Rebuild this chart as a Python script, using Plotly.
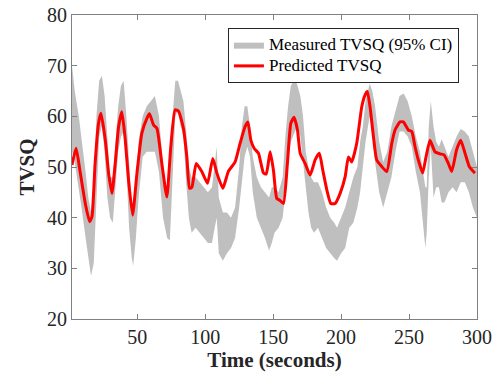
import plotly.graph_objects as go

# Predicted TVSQ (red line)
pred_t = [2, 5, 8, 12, 15, 16.7, 19, 21.5, 23.3, 26.5, 28.9, 31.4, 33.8, 36.3, 38.7, 41.2, 43.6, 46.6,
          49.8, 53.4, 57.1, 59, 62, 64.5, 68.1, 71.8, 74.7, 77.9, 80.4, 84, 86.5, 88.5, 90.2, 93.4,
          97.5, 101.7, 105.6, 108.6, 113, 117, 122, 125.7, 129.4, 131.4, 133.6, 136, 139.2, 142.9,
          144.9, 147.8, 150.2, 152.7, 155.1, 157.6, 160.5, 163, 165.4, 167.9, 169.9, 173.5, 177.2,
          180.9, 184, 186.5, 189.5, 192.4, 195.6, 199.3, 203, 205.4, 207.8, 211.5, 215.2, 217.6,
          219.3, 221.3, 223.8, 226.2, 229.9, 233.6, 237.3, 239.7, 243.4, 245.8, 249.5, 252, 254.4,
          256.8, 260, 262.5, 265.4, 269.1, 272.8, 275.7, 278.9, 281.4, 285, 288, 291.2, 294.3, 297.3, 298.5]
pred_v = [50.4, 53.7, 49, 42.5, 39.2, 40.2, 50.7, 58.6, 60.6, 55.3, 48.8, 44.8, 50.7, 58, 60.9, 55.3,
          47.4, 40.5, 48.8, 56.7, 59.6, 60.5, 58.3, 57.6, 50.7, 44.1, 54, 61.3, 61, 57.6, 52, 45.8,
          46, 50.7, 49.1, 46.8, 51.7, 48.8, 45.8, 49.1, 51, 54.7, 58, 58.9, 55.3, 53.7, 52.7, 48.8,
          48.6, 53, 49.4, 43.8, 43.4, 42.8, 50.7, 58.6, 59.8, 57.3, 52.7, 50.7, 48.4, 51.4, 52.7,
          49.4, 45.5, 42.8, 42.8, 44.8, 48.1, 52, 51, 54.7, 61.9, 64.2, 64.9, 61.9, 56, 51.4, 50.1,
          49.1, 54.7, 57.3, 58.9, 58.9, 57.3, 57, 54, 51.4, 48.8, 52, 55.3, 53, 52.6, 52.4, 50.7,
          49.1, 53.4, 55.3, 52.7, 50.1, 49.1, 48.8]

# Measured TVSQ 95% CI band
ci_t = [2, 4, 7, 9, 12, 14, 16, 18, 20, 22, 24, 26, 28, 30, 32, 34, 36, 38, 40, 42, 44, 46, 47, 49,
        51, 54, 57, 60, 63, 66, 69, 72, 74, 76, 78, 80, 82, 84, 86, 88, 90, 93, 96, 99, 102, 105,
        107, 108.5, 110, 113, 116, 119, 122, 125, 127, 129, 131, 133, 135, 138, 141, 144, 147, 149,
        151, 154, 157, 159, 161, 163, 166, 168, 170, 172, 174, 176, 178, 180, 183, 186, 189, 192,
        195, 197, 200, 203, 206, 209, 212, 214, 216, 218, 221, 223, 225, 228, 231, 234, 237, 240,
        243, 246, 249, 252, 255, 258, 260, 262, 263, 264.5, 266, 268, 270, 272, 274, 276, 279, 282,
        285, 288, 291, 294, 297, 300]
ci_hi = [70, 65, 60, 56, 49, 44, 41, 46, 60, 67, 68, 64, 55, 48, 48, 55, 62, 66, 67, 60, 50, 42, 41,
         46, 55, 60, 62, 63, 64, 60, 50, 45, 47, 60, 67, 67, 65, 63, 57, 50, 48, 48, 47, 46, 45, 46,
         50, 54, 44, 41, 41, 40, 42, 50, 58, 62, 62, 58, 52, 48, 46, 45, 44, 46, 46, 45, 48, 56, 62,
         66, 67.5, 66, 64, 60, 53, 50, 48, 47, 47, 45, 42, 40, 39, 38, 40, 42, 45, 48, 50, 55, 58,
         63, 66.5, 65, 62, 55, 51, 53, 58, 61, 64, 64.5, 63, 60, 56, 53, 49, 46, 46, 58, 63, 58,
         55, 54, 55.5, 54, 52, 54, 56, 57.5, 57, 56, 53, 50]
ci_lo = [53, 51, 46, 42, 36, 32, 28.5, 31, 45, 56, 58, 53, 44, 40, 39, 46, 53, 56, 57, 50, 38, 32,
         30.5, 36, 44, 52, 53, 53, 53, 49, 40, 36, 35.5, 47, 60, 61, 58, 56, 47, 40, 37, 38, 37, 36,
         35, 35, 38, 40, 33, 31.5, 33, 34, 36, 42, 47, 52, 54, 52, 45, 40, 38, 36, 33.5, 35, 37, 38,
         40, 45, 51, 55, 57, 58, 56, 52, 46, 41, 38, 37, 38, 36, 34, 33, 32, 31.5, 33, 34, 38, 39,
         42, 45, 50, 55, 60, 57, 51, 45, 42, 45, 48, 53, 57, 57, 56, 54, 49, 45, 40, 34, 37, 48, 54,
         44, 46, 46, 43, 43, 45, 46, 45, 47, 47, 45, 42, 40]

x_ticks = [50, 100, 150, 200, 250, 300]
y_ticks = [20, 30, 40, 50, 60, 70, 80]
series_names = ["Measured TVSQ (95% CI)", "Predicted TVSQ"]

FONT = "Liberation Serif"
LEG = "<span style='font-size:17px'>%s</span>"

fig = go.Figure()
fig.add_trace(go.Scatter(
    x=ci_t + ci_t[::-1], y=ci_hi + ci_lo[::-1],
    fill="toself", fillcolor="#bfbfbf", line=dict(width=0, color="#bfbfbf"),
    mode="lines", name=LEG % series_names[0], hoverinfo="skip"))
fig.add_trace(go.Scatter(
    x=pred_t, y=pred_v, mode="lines",
    line=dict(color="#ff0000", width=3, shape="spline", smoothing=0.5),
    name=LEG % series_names[1]))

axis_common = dict(
    showline=True, linecolor="#808080", linewidth=1, mirror="ticks",
    ticks="inside", ticklen=5, tickcolor="#808080", showgrid=False, zeroline=False,
    automargin=False,
    tickfont=dict(family=FONT, size=20, color="#262626"),
)
fig.update_layout(
    width=496, height=378,
    margin=dict(l=72, r=19, t=15, b=59, autoexpand=False),
    paper_bgcolor="white", plot_bgcolor="white",
    font=dict(family=FONT, color="#262626"),
    showlegend=True,
    legend=dict(
        x=0.385, y=0.957, xanchor="left", yanchor="top",
        bgcolor="white", bordercolor="#262626", borderwidth=1,
        font=dict(family=FONT, size=14, color="#000000"),
        itemwidth=30, tracegroupgap=0,
    ),
    xaxis=dict(range=[2, 300], tickvals=x_ticks,
               title=dict(text="<b>Time (seconds)</b>", standoff=4,
                          font=dict(family=FONT, size=21, color="#262626")),
               **axis_common),
    yaxis=dict(range=[20, 80], tickvals=y_ticks,
               title=dict(text="<b>TVSQ</b>", standoff=6,
                          font=dict(family=FONT, size=21, color="#262626")),
               **axis_common),
)
fig.write_html("out.html", config={"displayModeBar": False},
               post_script="document.body.style.margin='0px';")
